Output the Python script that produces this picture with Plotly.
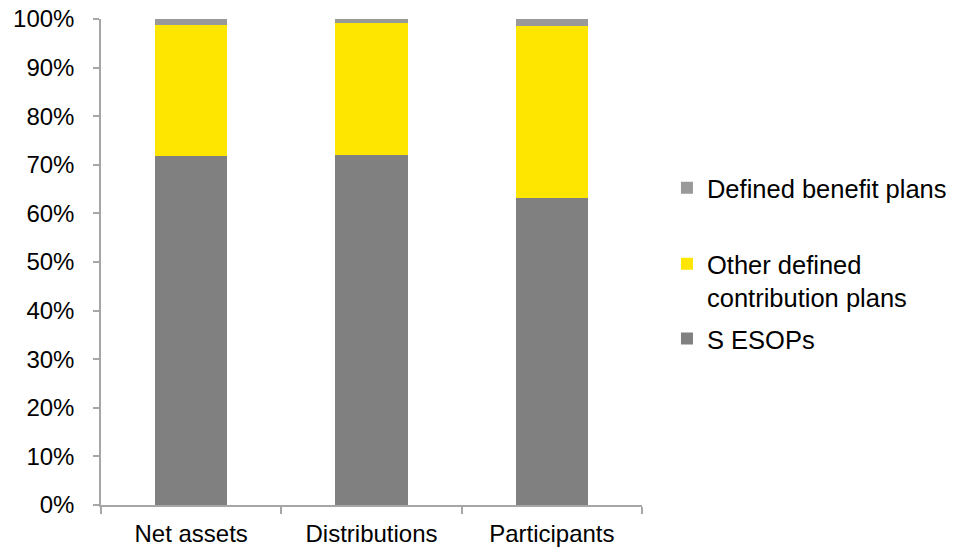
import plotly.graph_objects as go

categories = ["Net assets", "Distributions", "Participants"]
s_esops = [71.9, 72.0, 63.2]
other_dc = [26.8, 27.1, 35.4]
defined_benefit = [1.3, 0.9, 1.4]

FONT = "Liberation Sans, Arial, sans-serif"
FS = 24
LFS = 25.5

fig = go.Figure()
fig.add_trace(go.Bar(x=categories, y=s_esops, name="S ESOPs",
                     marker=dict(color="#808080", line=dict(width=0)),
                     width=0.4, legend="legend3", showlegend=True))
fig.add_trace(go.Bar(x=categories, y=other_dc, name="Other defined<br>contribution plans",
                     marker=dict(color="#FFE600", line=dict(width=0)),
                     width=0.4, legend="legend2", showlegend=True))
fig.add_trace(go.Bar(x=categories, y=defined_benefit, name="Defined benefit plans",
                     marker=dict(color="#999999", line=dict(width=0)),
                     width=0.4, legend="legend", showlegend=True))

leg_common = dict(font=dict(family=FONT, size=LFS, color="#000000"),
                  xref="container", yref="container",
                  xanchor="left", yanchor="top", valign="top",
                  bgcolor="rgba(0,0,0,0)", itemwidth=30)

fig.update_layout(
    barmode="stack",
    showlegend=True,
    width=958, height=550,
    margin=dict(l=101, r=316, t=19, b=45),
    plot_bgcolor="white", paper_bgcolor="white",
    font=dict(family=FONT, size=FS, color="#000000"),
    legend=dict(x=0.6962, y=0.7004, **leg_common),
    legend2=dict(x=0.6962, y=0.5624, **leg_common),
    legend3=dict(x=0.6962, y=0.4264, **leg_common),
    xaxis=dict(
        showline=True, linecolor="#A6A6A6", linewidth=1.5,
        ticks="outside", ticklen=7, tickcolor="#A6A6A6", tickwidth=1.5,
        tickson="boundaries", showgrid=False, automargin=False,
        tickfont=dict(family=FONT, size=FS, color="#000000"),
        ticklabelstandoff=6,
    ),
    yaxis=dict(
        range=[0, 100], tickvals=[0, 10, 20, 30, 40, 50, 60, 70, 80, 90, 100],
        ticktext=[f"{v}%" for v in range(0, 101, 10)],
        showline=True, linecolor="#A6A6A6", linewidth=1.5,
        ticks="outside", ticklen=6, tickcolor="#A6A6A6", tickwidth=1.5,
        showgrid=False, zeroline=False, automargin=False,
        tickfont=dict(family=FONT, size=FS, color="#000000"),
        ticklabelstandoff=14,
    ),
)

fig.write_html("out.html")
